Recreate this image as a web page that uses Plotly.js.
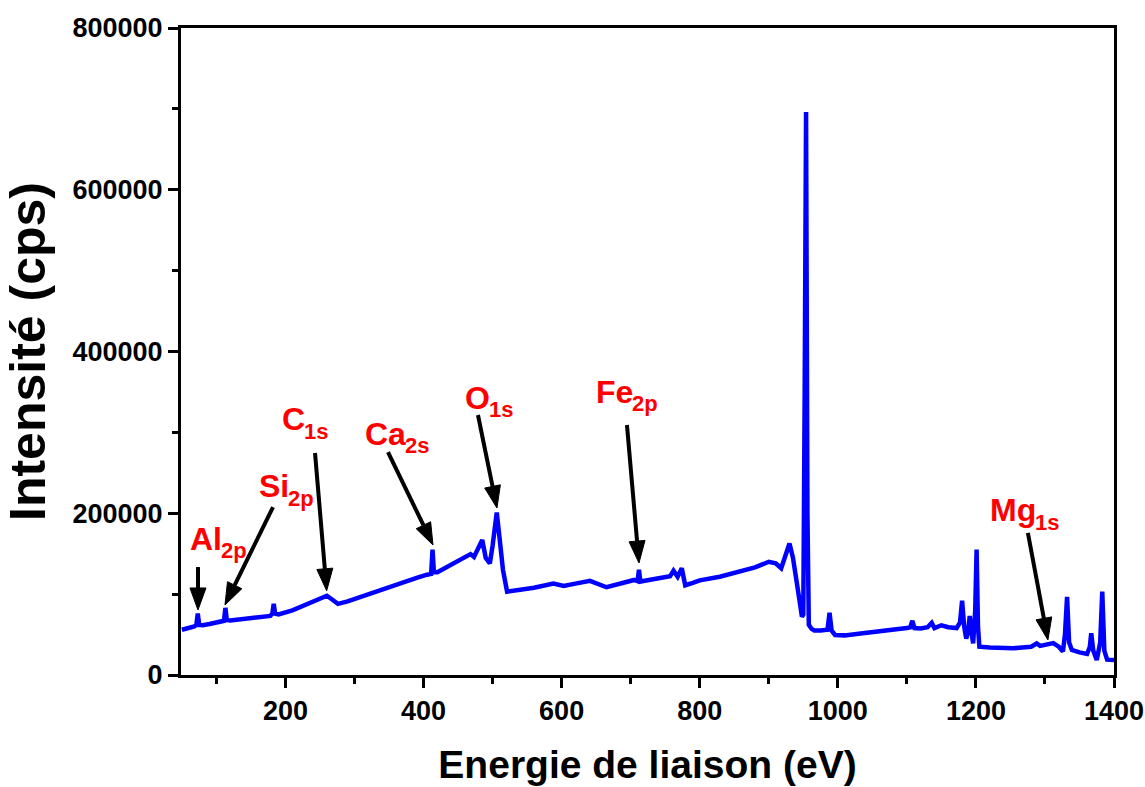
<!DOCTYPE html>
<html>
<head>
<meta charset="utf-8">
<script src="https://cdn.plot.ly/plotly-3.0.1.min.js"></script>
<style>html,body{margin:0;padding:0;background:#fff;}#chart{width:1145px;height:787px;}</style>
</head>
<body>
<div id="chart"></div>
<script>
// Binding energy (eV) and intensity (cps)
const energy = [50,60,68,71,73,75,80,90,100,108,111,113,115,120,140,160,178,181,183,185,190,210,225,240,252,260,268,276,290,323,350,371,390,405,411,413,415,420,440,455,468,473,480,485,490,496,500,506,510,515,521,530,560,588,603,620,641,665,690,705,710,712,714,730,752,757,762,768,774,779,790,800,829,860,880,900,910,918,925,930,935,940,944,948,950,952,954,956,958,962,966,975,985,988,991,996,1010,1036,1060,1085,1100,1105,1108,1111,1120,1130,1136,1140,1150,1160,1172,1177,1180,1183,1186,1189,1191,1194,1196,1199,1201,1203,1205,1220,1254,1280,1288,1293,1300,1312,1320,1326,1329,1332,1335,1339,1350,1361,1365,1367,1370,1375,1380,1383,1386,1390,1400];
const counts = [56000,58000,60000,62000,76000,62000,61500,63000,64500,65500,67000,83000,68000,67500,69500,71000,73000,76000,88000,76000,75000,80000,85000,90000,95000,98000,93000,88000,91000,101000,108000,115000,120000,124000,125000,155000,127000,127000,136000,144000,149500,146000,160000,167000,145000,138000,160000,201000,170000,130000,103000,104000,108000,113000,110000,113000,116500,108500,114000,117500,116000,130000,115500,118000,121500,122000,129000,121500,132000,111000,114000,117000,121500,128000,133000,140000,138000,132000,148000,162500,145000,112000,95000,72000,75000,350000,696000,200000,62000,57000,55000,55000,56000,77000,55000,49500,49000,51500,53500,56500,58000,59000,67000,58000,57500,59000,64500,58000,61500,59000,58000,65000,92000,60000,45000,55000,73000,50000,39000,80000,155000,60000,35000,34000,33000,35000,39000,36000,37000,39500,35000,29000,50000,96500,40000,31000,28000,26000,35000,51500,30000,18500,40000,103000,30000,19000,18500];

// Peak labels: main text, subscript, label position, arrow tail and arrow head
const labelMain = ["Al","Si","C","Ca","O","Fe","Mg"];
const labelSub  = ["2p","2p","1s","2s","1s","2p","1s"];
const labelX = [58.8,158.8,192.1,312.3,457.1,646.8,1217.4];
const labelY = [168200,233100,316500,298000,343100,350500,204000];
const arrowTailX = [73.3,182,242.8,348.5,478.8,694.6,1275.3];
const arrowTailY = [133500,207700,274500,275700,321500,309100,175600];
const arrowHeadX = [73.3,112.4,259.7,413.7,506.3,712,1304.3];
const arrowHeadY = [80400,86600,104200,160700,206500,138500,43300];

const FONT = "Arial, 'Liberation Sans', sans-serif";
const MAIN_SIZE = 32, SUB_SIZE = 22;
const XR = [48.7, 1400], YR = [0, 800000];
const W = 1145, H = 787, M = {l: 181, r: 31, t: 28, b: 112};
const pxPerX = (W - M.l - M.r) / (XR[1] - XR[0]);
const pxPerY = (H - M.t - M.b) / (YR[1] - YR[0]);

const ctx = document.createElement('canvas').getContext('2d');
ctx.font = 'bold ' + MAIN_SIZE + 'px ' + FONT;

const annotations = [];
const shapes = [];
for (let i = 0; i < labelMain.length; i++) {
  annotations.push({
    x: labelX[i], y: labelY[i], xref: 'x', yref: 'y',
    xanchor: 'left', yanchor: 'middle',
    text: labelMain[i], showarrow: false,
    font: {family: FONT, size: MAIN_SIZE, color: '#ff0000', weight: 'bold'}
  });
  annotations.push({
    x: labelX[i], y: labelY[i], xref: 'x', yref: 'y',
    xanchor: 'left', yanchor: 'middle',
    xshift: ctx.measureText(labelMain[i]).width - 1, yshift: -12,
    text: labelSub[i], showarrow: false,
    font: {family: FONT, size: SUB_SIZE, color: '#ff0000', weight: 'bold'}
  });
  // arrow: shaft line + filled triangular head, built in pixel space then mapped to data
  const dxp = (arrowHeadX[i] - arrowTailX[i]) * pxPerX;
  const dyp = (arrowHeadY[i] - arrowTailY[i]) * pxPerY;
  const len = Math.hypot(dxp, dyp);
  const ux = dxp / len, uy = dyp / len;
  const nx = -uy, ny = ux;
  const HL = 22, HW = 8;
  const bx = arrowHeadX[i] - HL * ux / pxPerX, by = arrowHeadY[i] - HL * uy / pxPerY;
  const c1x = bx + HW * nx / pxPerX, c1y = by + HW * ny / pxPerY;
  const c2x = bx - HW * nx / pxPerX, c2y = by - HW * ny / pxPerY;
  shapes.push({
    type: 'line', xref: 'x', yref: 'y',
    x0: arrowTailX[i], y0: arrowTailY[i], x1: bx, y1: by,
    line: {color: '#000', width: 4}
  });
  shapes.push({
    type: 'path', xref: 'x', yref: 'y',
    path: 'M' + arrowHeadX[i] + ',' + arrowHeadY[i] + ' L' + c1x + ',' + c1y + ' L' + c2x + ',' + c2y + ' Z',
    fillcolor: '#000', line: {color: '#000', width: 1}
  });
}

const trace = {
  x: energy, y: counts, type: 'scatter', mode: 'lines',
  line: {color: 'rgb(0,0,255)', width: 4.5},
  hoverinfo: 'skip'
};

const layout = {
  width: W, height: H,
  margin: {l: M.l, r: M.r, t: M.t, b: M.b, pad: 0},
  paper_bgcolor: '#ffffff', plot_bgcolor: '#ffffff',
  showlegend: false,
  font: {family: FONT, color: '#000000'},
  xaxis: {
    range: XR, dtick: 200, tick0: 0,
    ticks: 'outside', ticklen: 10, tickwidth: 3, tickcolor: '#000',
    minor: {dtick: 100, tick0: 0, ticks: 'outside', ticklen: 6, tickwidth: 3, tickcolor: '#000', showgrid: false},
    showline: true, linewidth: 3, linecolor: '#000', mirror: true,
    showgrid: false, zeroline: false,
    tickfont: {family: FONT, size: 27, weight: 'bold', color: '#000'},
    title: {text: 'Energie de liaison (eV)', font: {family: FONT, size: 39, weight: 'bold', color: '#000'}, standoff: 26}
  },
  yaxis: {
    range: YR, dtick: 200000, tick0: 0, tickformat: 'd',
    ticks: 'outside', ticklen: 10, tickwidth: 3, tickcolor: '#000',
    minor: {dtick: 100000, tick0: 0, ticks: 'outside', ticklen: 6, tickwidth: 3, tickcolor: '#000', showgrid: false},
    showline: true, linewidth: 3, linecolor: '#000', mirror: true,
    showgrid: false, zeroline: false,
    tickfont: {family: FONT, size: 27, weight: 'bold', color: '#000'},
    title: {text: 'Intensité (cps)', font: {family: FONT, size: 50, weight: 'bold', color: '#000'}, standoff: 12}
  },
  annotations: annotations,
  shapes: shapes
};

Plotly.newPlot('chart', [trace], layout, {displayModeBar: false, staticPlot: true});
</script>
</body>
</html>
